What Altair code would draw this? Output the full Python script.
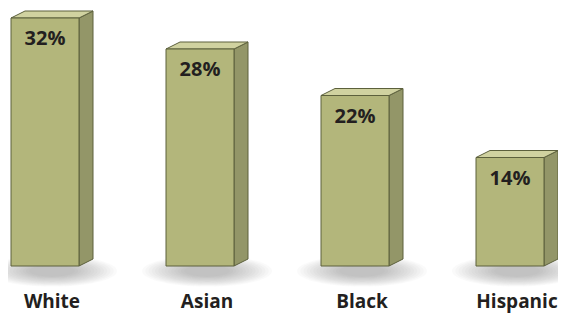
import altair as alt
import pandas as pd

categories = ["White", "Asian", "Black", "Hispanic"]
values = [32, 28, 22, 14]
labels = ["32%", "28%", "22%", "14%"]

# layout constants (pixels)
W, H = 550, 306
STEP = 155.0          # px between categories
FIRST = 37.0          # px centre of first bar front
PX_PER_UNIT = 7.75    # px per percent
ZERO_Y = 258.0        # px of 0%
HALF_W = 34.0 / STEP  # half front width (index units)
DX = 14.0 / STEP      # depth in x (index units)
DY = 7.0 / PX_PER_UNIT  # depth in y (percent units)

x_dom = [-FIRST / STEP, (W - FIRST) / STEP]
y_dom = [(ZERO_Y - H) / PX_PER_UNIT, ZERO_Y / PX_PER_UNIT]
xs = alt.Scale(domain=x_dom, nice=False, zero=False)
ys = alt.Scale(domain=y_dom, nice=False, zero=False)

# soft elliptical shadow built from stacked translucent ellipses
ELLIPSE = "M-1,0 A1,0.24 0 1,0 1,0 A1,0.24 0 1,0 -1,0 Z"
N_LAYERS = 14

front_rows, side_rows, top_rows, shadow_rows = [], [], [], []
for i, (c, v, l) in enumerate(zip(categories, values, labels)):
    front_rows.append({"cat": c, "x0": i - HALF_W, "x1": i + HALF_W, "base": 0, "val": v,
                       "xc": i, "xl": i + DX / 2, "label": l})
    side_rows.append({"cat": c, "x": i + HALF_W, "y0": 0, "y1": v})
    side_rows.append({"cat": c, "x": i + HALF_W + DX, "y0": DY, "y1": v + DY})
    top_rows.append({"cat": c, "y": v, "xa": i - HALF_W, "xb": i + HALF_W})
    top_rows.append({"cat": c, "y": v + DY, "xa": i - HALF_W + DX, "xb": i + HALF_W + DX})
    for k in range(N_LAYERS):
        w = 130 - 6.5 * k
        shadow_rows.append({"cat": c, "k": k, "sx": i + DX / 2, "sy": -5 / PX_PER_UNIT,
                            "sz": w * w})

front = pd.DataFrame(front_rows)
side = pd.DataFrame(side_rows)
top = pd.DataFrame(top_rows)
shadow = pd.DataFrame(shadow_rows)

FRONT = "#b3b67b"
SIDE = "#939668"
TOPC = "#d0d2a0"
EDGE = "#5c603c"
TXT = "#231f20"

shadow_l = alt.Chart(shadow).mark_point(shape=ELLIPSE, filled=True, color="#76767c",
                                        opacity=0.035, strokeWidth=0).encode(
    x=alt.X("sx:Q", scale=xs, axis=None),
    y=alt.Y("sy:Q", scale=ys, axis=None),
    size=alt.Size("sz:Q", scale=None, legend=None),
    detail="k:N",
)

front_l = alt.Chart(front).mark_rect(fill=FRONT, stroke=EDGE, strokeWidth=1).encode(
    x=alt.X("x0:Q", scale=xs, axis=None), x2="x1:Q",
    y=alt.Y("base:Q", scale=ys, axis=None), y2="val:Q",
)

side_l = alt.Chart(side).mark_area(fill=SIDE, stroke=EDGE, strokeWidth=1, orient="vertical").encode(
    x=alt.X("x:Q", scale=xs, axis=None),
    y=alt.Y("y0:Q", scale=ys, axis=None), y2="y1:Q",
    detail="cat:N",
)

top_l = alt.Chart(top).mark_area(fill=TOPC, stroke=EDGE, strokeWidth=1, orient="horizontal").encode(
    y=alt.Y("y:Q", scale=ys, axis=None),
    x=alt.X("xa:Q", scale=xs, axis=None), x2="xb:Q",
    detail="cat:N",
)

val_l = alt.Chart(front).mark_text(font="Open Sans", fontWeight="bold", fontSize=20,
                                   color=TXT, baseline="alphabetic", dy=27).encode(
    x=alt.X("xc:Q", scale=xs, axis=None),
    y=alt.Y("val:Q", scale=ys, axis=None),
    text="label:N",
)

cat_l = alt.Chart(front).mark_text(font="Open Sans", fontWeight="bold", fontSize=19,
                                   color=TXT, baseline="alphabetic", dy=42).encode(
    x=alt.X("xl:Q", scale=xs, axis=None),
    y=alt.Y("base:Q", scale=ys, axis=None),
    text="cat:N",
)

chart = alt.layer(shadow_l, side_l, top_l, front_l, val_l, cat_l).properties(
    width=W, height=H, padding=0, autosize=alt.AutoSizeParams(type="none"),
    background="white",
).configure_view(strokeWidth=0)

chart.save("out.html", embed_options={"renderer": "svg", "actions": False})
